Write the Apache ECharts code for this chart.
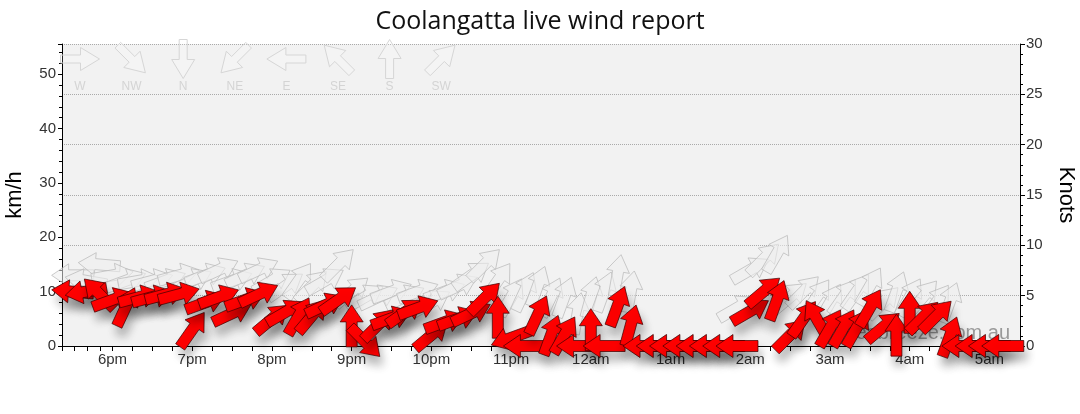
<!DOCTYPE html>
<html><head><meta charset="utf-8">
<script src="https://cdn.jsdelivr.net/npm/echarts@6/dist/echarts.min.js"></script>
<style>html,body{margin:0;padding:0;background:#fff}#c{width:1080px;height:414px}</style>
</head><body><div id="c"></div>
<script>
const times = [
 '2024-01-01 17:30','2024-01-01 17:40','2024-01-01 17:50','2024-01-01 18:00','2024-01-01 18:10','2024-01-01 18:20',
 '2024-01-01 18:30','2024-01-01 18:40','2024-01-01 18:50','2024-01-01 19:00','2024-01-01 19:10','2024-01-01 19:20',
 '2024-01-01 19:30','2024-01-01 19:40','2024-01-01 19:50','2024-01-01 20:00','2024-01-01 20:10','2024-01-01 20:20',
 '2024-01-01 20:30','2024-01-01 20:40','2024-01-01 20:50','2024-01-01 21:00','2024-01-01 21:10','2024-01-01 21:20',
 '2024-01-01 21:30','2024-01-01 21:40','2024-01-01 21:50','2024-01-01 22:00','2024-01-01 22:10','2024-01-01 22:20',
 '2024-01-01 22:30','2024-01-01 22:40','2024-01-01 22:50','2024-01-01 23:00','2024-01-01 23:10','2024-01-01 23:20',
 '2024-01-01 23:30','2024-01-01 23:40','2024-01-01 23:50','2024-01-02 00:00','2024-01-02 00:10','2024-01-02 00:20',
 '2024-01-02 00:30','2024-01-02 00:40','2024-01-02 00:50','2024-01-02 01:00','2024-01-02 01:10','2024-01-02 01:20',
 '2024-01-02 01:30','2024-01-02 01:40','2024-01-02 01:50','2024-01-02 02:00','2024-01-02 02:10','2024-01-02 02:20',
 '2024-01-02 02:30','2024-01-02 02:40','2024-01-02 02:50','2024-01-02 03:00','2024-01-02 03:10','2024-01-02 03:20',
 '2024-01-02 03:30','2024-01-02 03:40','2024-01-02 03:50','2024-01-02 04:00','2024-01-02 04:10','2024-01-02 04:20',
 '2024-01-02 04:30','2024-01-02 04:40','2024-01-02 04:50','2024-01-02 05:00','2024-01-02 05:10'
];
// wind direction (degrees, direction wind comes FROM) and speed (km/h)
const windDir = [
 95,80,135,250,205,255, 255,255,255,215,250,250, 245,250,245,230,240,210,
 220,245,235,180,315,225, 250,235,250,230,250,250, 245,225,180,70,90,205,
 200,210,90,180,90,200, 195,90,90,90,90,90, 90,90,90,240,230,200,
 225,215,150,210,210,210, 210,230,180,180,225,225, 200,90,90,90,90
];
const windSpeed = [
 10,10,9.6,8.5,7.2,9, 9,9.5,9.5,3,8,9, 6,8.5,9.5,5,6.2,5.5,
 5.5,7.5,8.5,3.7,0.8,3.9, 5.1,6.2,7,2,4.4,5, 6,8.8,5.3,1.5,0,5.7,
 2,2,0,3,0,7.3, 3.8,0,0,0,0,0, 0,0,0,6.4,10,8.4,
 2,5,5,3.3,3.3,3.3, 7,3.5,2,6.2,5.3,5.5, 1.7,0,0,0,0
];
const gustDir = [
 90,100,95,260,250,260, 255,250,255,245,250,245, 250,245,245,240,235,215,
 225,240,225,230,240,245, 250,245,250,240,250,245, 235,225,215,210,205,200,
 205,200,190,195,200,190, 190,90,90,90,90,90, 90,90,240,240,225,210,
 230,225,215,210,215,215, 210,225,200,210,220,215, 200,90,90,90,90
];
const gustSpeed = [
 13,12,15,13,12,12, 12,12,13,12,13,14, 12,13,14,12,11,12,
 11,12,15,10,9,9, 10,9,10,8,10,11, 13,15,12,9,10,11,
 9,9,6,9,10,13, 10,0,0,0,0,0, 0,0,7,14,16,17,
 9,10,9,8,9,10, 11,8,10,9,9,8, 8,0,0,0,0
];
const legendDirs = ['W','NW','N','NE','E','SE','S','SW'];
const legendFrom = [270,315,0,45,90,135,180,225];

const KMH_PER_KNOT = 1.852;

function arrowPoints(cx, cy, fromDeg, L, headLen, headHalf, shaftHalf) {
  const b = (fromDeg + 180) * Math.PI / 180;
  const dx = Math.sin(b), dy = -Math.cos(b);
  const px = -dy, py = dx;
  const h = L / 2, hb = h - headLen;
  const loc = [[-h,-shaftHalf],[hb,-shaftHalf],[hb,-headHalf],[h,0],[hb,headHalf],[hb,shaftHalf],[-h,shaftHalf]];
  return loc.map(([u,v]) => [cx + u*dx + v*px, cy + u*dy + v*py]);
}

function makeRender(kind) {
  return function (params, api) {
    const p = api.coord([api.value(0), api.value(1)]);
    const pts = arrowPoints(p[0], p[1], api.value(2), 42, 17, 11.5, 5.5);
    const style = kind === 'wind'
      ? {fill:'#ff0000', stroke:'#3a0000', lineWidth:0.7,
         shadowBlur:10, shadowColor:'rgba(0,0,0,0.28)', shadowOffsetX:3, shadowOffsetY:9}
      : {fill:'rgba(238,238,238,0.55)', stroke:'rgba(185,185,185,0.75)', lineWidth:1};
    return {type:'polygon', shape:{points:pts}, style: style};
  };
}

const windData = times.map((t,i) => [t, windSpeed[i], windDir[i]]);
const gustData = times.map((t,i) => [t, gustSpeed[i], gustDir[i]]);

const graphics = [];
legendDirs.forEach((name, i) => {
  const cx = 80 + i * 51.6, cy = 59;
  graphics.push({type:'polygon', z:1, shape:{points: arrowPoints(cx, cy, legendFrom[i], 39, 19, 11.5, 4)},
    style:{fill:'rgba(255,255,255,0.15)', stroke:'#d6d6d6', lineWidth:1}});
  graphics.push({type:'text', z:1, x:cx, y:87, style:{text:name, fill:'#d4d4d4', font:'12px Arial', align:'center', verticalAlign:'middle'}});
});
graphics.push({type:'text', z:1, x:1010, y:333, style:{text:'seabreeze.com.au', fill:'#9a9a9a', font:'20px Arial', align:'right', verticalAlign:'middle'}});

const chart = echarts.init(document.getElementById('c'), null, {renderer:'canvas'});
chart.setOption({
  animation:false,
  backgroundColor:'#ffffff',
  title:{text:'Coolangatta live wind report', left:'center', top:4,
    textStyle:{fontFamily:'Open Sans', fontSize:25, fontWeight:'normal', color:'#111'}},
  grid:{left:62, right:60, top:44, bottom:68, show:true, backgroundColor:'#f2f2f2', borderWidth:0,
    outerBoundsMode:'none', containLabel:false},
  graphic: graphics,
  xAxis:{type:'time', min:'2024-01-01 17:22', max:'2024-01-02 05:23',
    minInterval:3600000, maxInterval:3600000, splitNumber:12,
    axisLine:{show:true, lineStyle:{color:'#000', width:1}},
    axisTick:{show:true, length:5, lineStyle:{color:'#000'}},
    minorTick:{show:true, splitNumber:4, length:5, lineStyle:{color:'#000'}},
    splitLine:{show:false},
    axisLabel:{margin:6, color:'#333', fontFamily:'Arial', fontSize:15, hideOverlap:false,
      formatter:function(v){const d=new Date(v);let h=d.getHours();const s=h<12?'am':'pm';h=h%12;if(h===0)h=12;return h+s;}}
  },
  yAxis:[
    {type:'value', min:0, max:30*KMH_PER_KNOT, interval:10, position:'left',
      name:'km/h', nameLocation:'middle', nameGap:36, nameRotate:90,
      nameTextStyle:{fontFamily:'Arial', fontSize:22, color:'#000'},
      axisLine:{show:true, lineStyle:{color:'#000'}},
      axisTick:{show:true, length:4, lineStyle:{color:'#000'}},
      minorTick:{show:true, splitNumber:5, length:3, lineStyle:{color:'#000'}},
      splitLine:{show:false},
      axisLabel:{color:'#333', fontFamily:'Arial', fontSize:15, margin:6, showMaxLabel:false}},
    {type:'value', min:0, max:30, interval:5, position:'right',
      name:'Knots', nameLocation:'middle', nameGap:35, nameRotate:-90,
      nameTextStyle:{fontFamily:'Arial', fontSize:22, color:'#000'},
      axisLine:{show:true, lineStyle:{color:'#000'}},
      axisTick:{show:true, length:5, lineStyle:{color:'#000'}},
      minorTick:{show:true, splitNumber:5, length:3, lineStyle:{color:'#000'}},
      splitLine:{show:true, lineStyle:{color:'#aaa', type:'dotted', width:1}},
      axisLabel:{color:'#333', fontFamily:'Arial', fontSize:15, margin:6}}
  ],
  series:[
    {type:'custom', name:'Gust', yAxisIndex:0, clip:false, z:2, data:gustData,
      encode:{x:0, y:1}, renderItem:makeRender('gust')},
    {type:'custom', name:'Wind', yAxisIndex:0, clip:false, z:3, data:windData,
      encode:{x:0, y:1}, renderItem:makeRender('wind')}
  ]
});
</script>
</body></html>
